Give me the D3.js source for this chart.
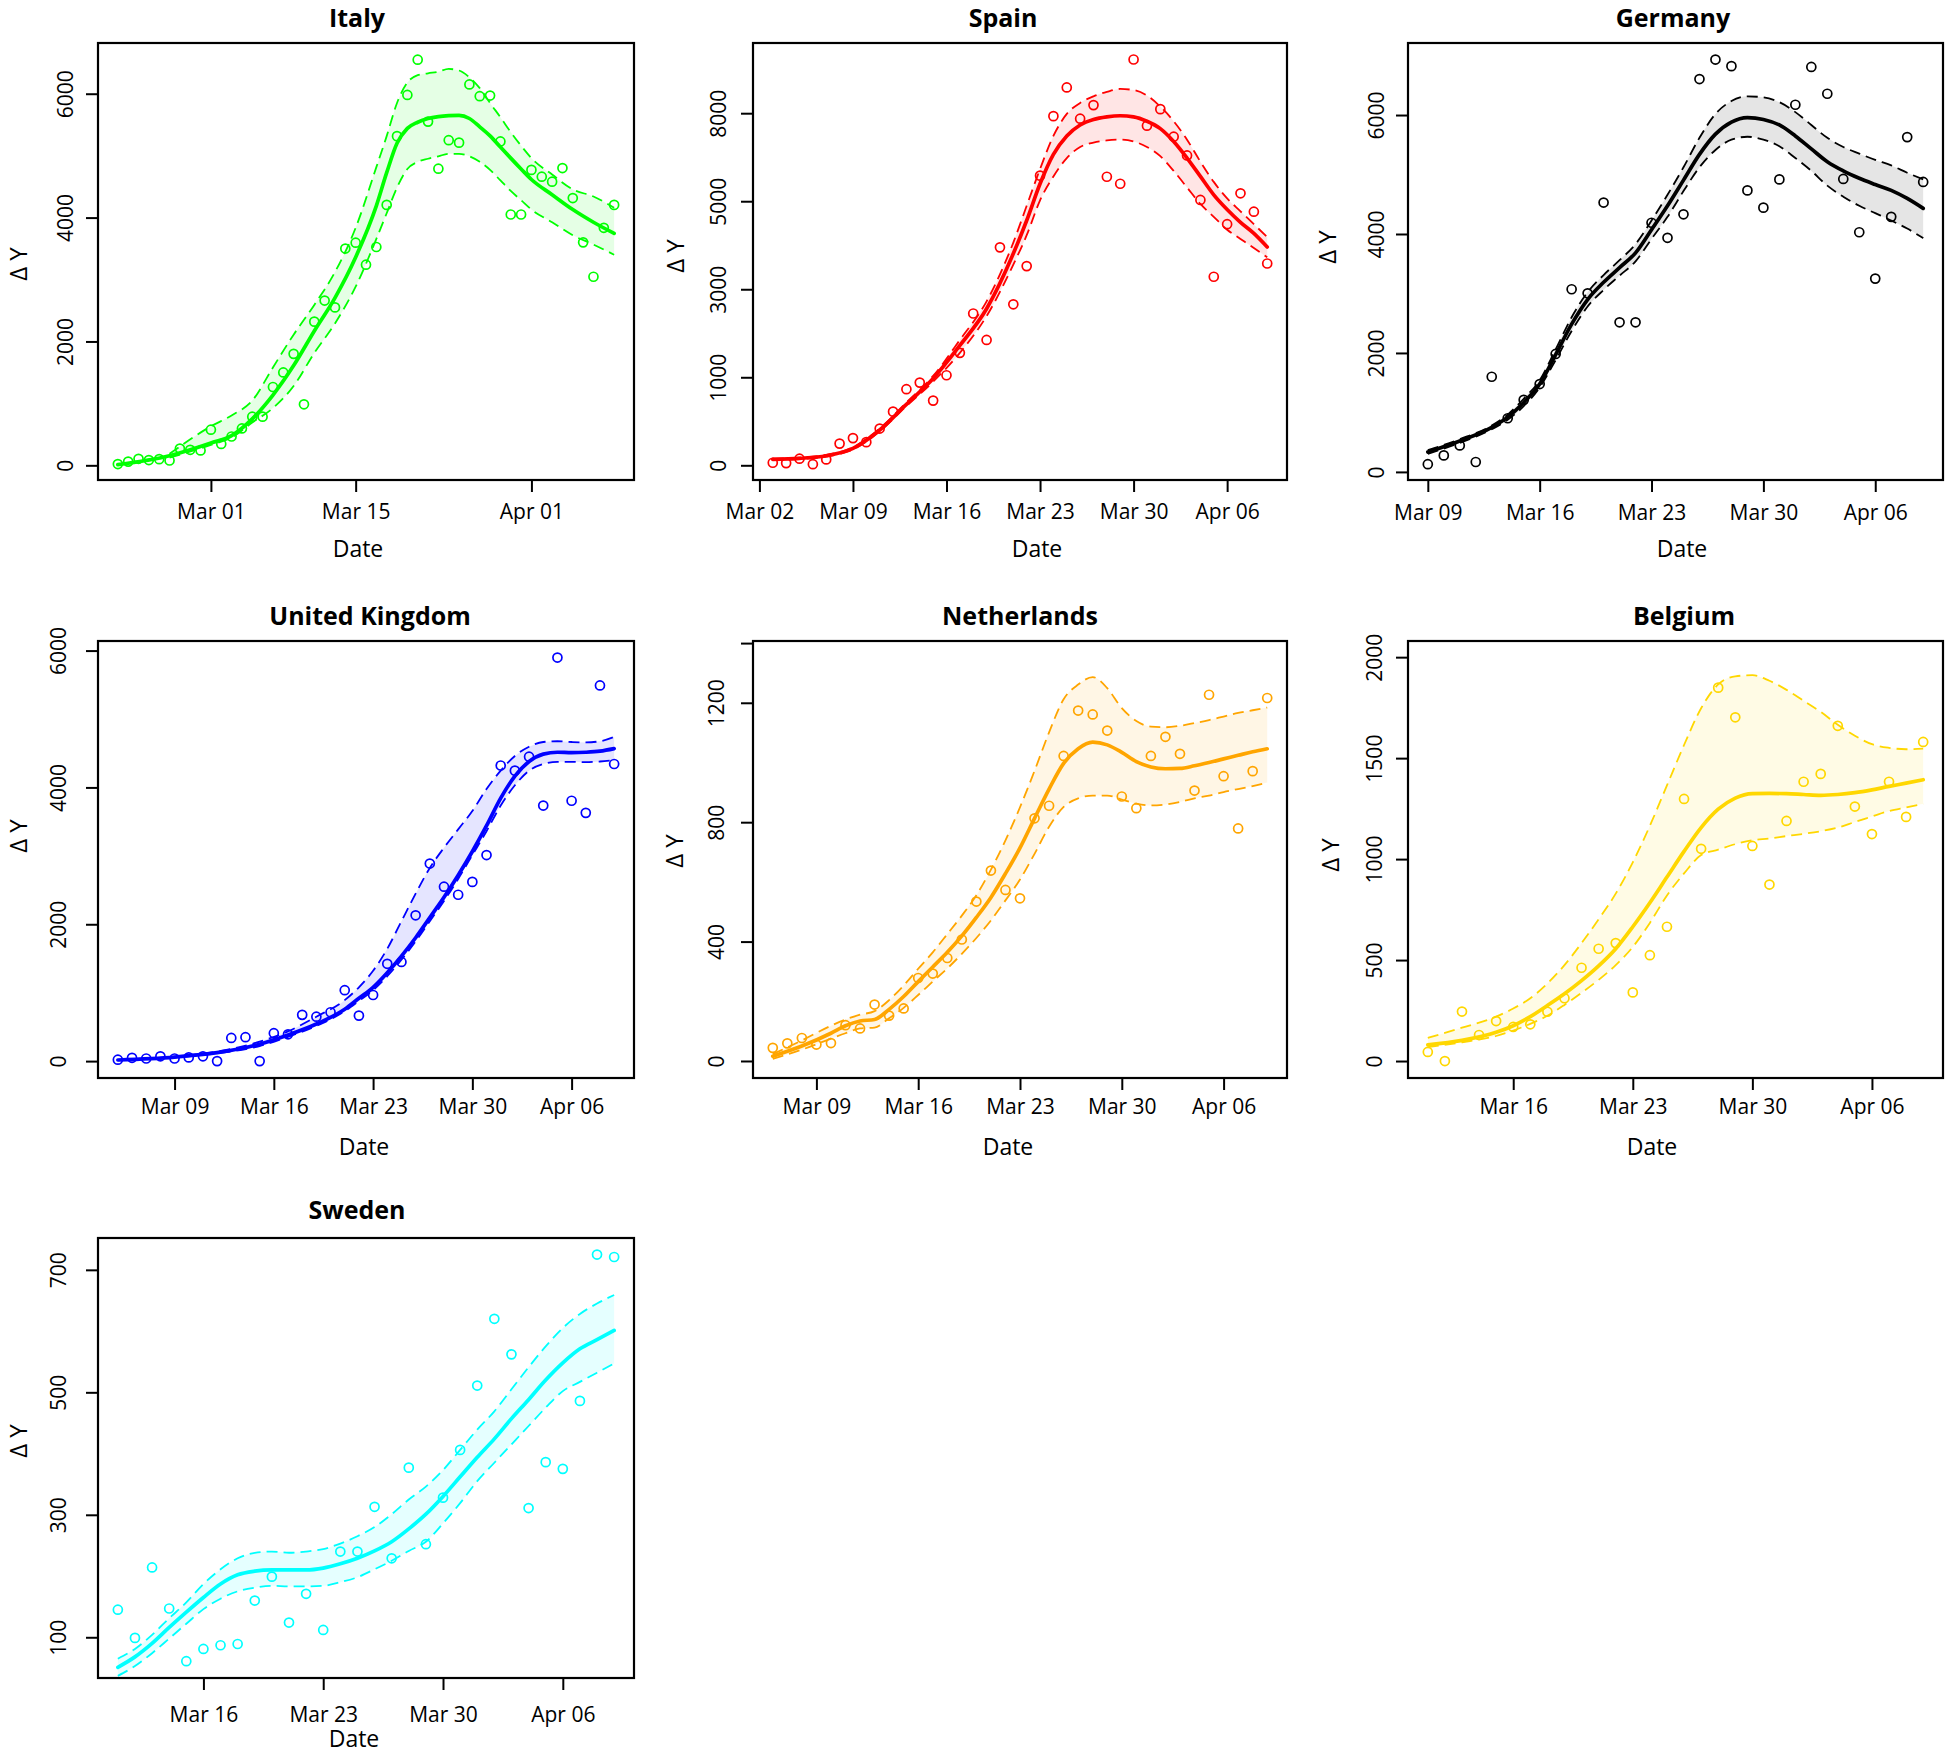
<!DOCTYPE html>
<html><head><meta charset="utf-8">
<script src="https://cdn.jsdelivr.net/npm/d3@7"></script>
<style>body{margin:0;background:#fff} svg{display:block}</style>
</head><body>
<svg id="chart" width="1946" height="1755"></svg>
<script>
// ---------------- DATA ----------------
// Italy
const italyStart = "2020-02-21";
const italyNew = [20,60,105,85,100,78,270,250,240,575,345,465,595,785,785,1265,1500,1800,985,2320,2660,2550,3500,3595,3240,3525,4205,5315,5980,6550,5550,4790,5250,5210,6150,5960,5970,5230,4050,4050,4770,4660,4580,4800,4315,3600,3045,3835,4205];
const italyKnots = [0,5,9,11,13,15,17,19,21,23,25,26,27,28,29,30,31,32,33,34,35,36,37,38,39,40,42,44,46,48];
const italyFit = [10,155,360,480,750,1135,1610,2170,2705,3360,4190,4725,5200,5440,5540,5600,5630,5645,5650,5600,5465,5320,5140,4960,4785,4615,4370,4130,3925,3745];
const italyHi = [null,185,630,805,1045,1580,2110,2590,3120,3835,4815,5315,5850,6180,6300,6330,6355,6400,6375,6265,6090,5850,5620,5380,5160,4960,4695,4455,4340,4160];
const italyLo = [null,125,330,450,690,925,1280,1815,2290,2885,3655,4070,4485,4785,4900,4950,4990,5030,5030,4990,4900,4770,4600,4430,4280,4130,3925,3715,3565,3400];
const italyYTicks = [0,2000,4000,6000];
const italyYLabels = ["0","2000","4000","6000"];
const italyXTicks = ["2020-03-01","2020-03-15","2020-04-01"];
const italyXLabels = ["Mar 01","Mar 15","Apr 01"];

// Spain
const spainStart = "2020-03-03";
const spainNew = [58,50,150,25,134,493,618,526,835,1219,1729,1879,1470,2046,2555,3449,2848,4952,3658,4526,6581,7933,8585,7875,8184,6556,6397,9220,7716,8092,7466,7040,6029,4284,5478,6180,5762,4585];
const spainKnots = [0,2,4,6,8,10,12,14,16,18,19,20,21,22,23,24,25,26,27,28,29,30,31,32,33,34,35,36,37];
const spainFit = [134,159,217,384,802,1386,1971,2722,3557,4810,5562,6397,7065,7483,7733,7858,7917,7942,7917,7817,7650,7357,6981,6564,6146,5812,5520,5269,4960];
const spainHi = [150,176,236,409,835,1428,2030,2848,3725,5061,5896,6731,7483,7984,8234,8384,8485,8551,8526,8401,8151,7817,7399,6898,6439,6063,5771,5478,5186];
const spainLo = [118,142,198,359,770,1345,1900,2555,3390,4560,5228,6021,6564,6981,7232,7332,7382,7399,7357,7232,7023,6689,6313,5938,5645,5353,5144,4935,4727];
const spainYTicks = [0,2000,4000,6000,8000];
const spainYLabels = ["0","1000","3000","5000","8000"];
const spainXTicks = ["2020-03-02","2020-03-09","2020-03-16","2020-03-23","2020-03-30","2020-04-06"];
const spainXLabels = ["Mar 02","Mar 09","Mar 16","Mar 23","Mar 30","Apr 06"];

// Germany
const germanyStart = "2020-03-09";
const germanyNew = [130,278,445,167,1600,902,1211,1477,1983,3071,3003,4529,2515,2515,4189,3936,4331,6605,6933,6822,4733,4443,4918,6173,6809,6358,4925,4029,3250,4288,5629,4875];
const germanyKnots = [0,2,4,5,6,7,8,9,10,11,12,13,14,15,16,17,18,19,20,21,22,23,24,25,26,27,28,29,30,31];
const germanyFit = [334,519,748,921,1168,1477,1971,2484,2898,3188,3435,3683,4072,4474,4906,5339,5679,5882,5957,5926,5833,5648,5431,5215,5061,4937,4832,4733,4597,4430];
const germanyHi = [365,550,779,964,1230,1540,2060,2600,3020,3310,3560,3830,4226,4659,5122,5617,6018,6235,6315,6297,6216,6049,5833,5617,5462,5351,5246,5153,5030,4918];
const germanyLo = [303,488,717,877,1106,1420,1880,2370,2780,3060,3300,3540,3917,4288,4721,5122,5413,5586,5635,5586,5475,5277,5061,4813,4628,4474,4350,4226,4091,3930];
const germanyYTicks = [0,2000,4000,6000];
const germanyYLabels = ["0","2000","4000","6000"];
const germanyXTicks = ["2020-03-09","2020-03-16","2020-03-23","2020-03-30","2020-04-06"];
const germanyXLabels = ["Mar 09","Mar 16","Mar 23","Mar 30","Apr 06"];

// United Kingdom
const ukStart = "2020-03-05";
const ukNew = [21,48,38,70,38,54,70,0,338,349,0,408,392,676,649,714,1036,665,966,1422,1449,2131,2887,2549,2431,2619,3011,4320,4245,4449,3735,5898,3805,3628,5490,4342];
const ukKnots = [0,4,7,10,12,14,16,17,18,19,20,21,22,23,24,25,26,27,28,29,30,31,32,33,34,35];
const ukFit = [16,59,123,247,381,542,757,918,1079,1293,1535,1803,2098,2394,2716,3064,3440,3843,4165,4379,4487,4514,4508,4514,4530,4567];
const ukHi = [16,65,140,284,435,649,891,1079,1320,1642,2045,2447,2823,3118,3387,3655,3977,4245,4460,4594,4664,4675,4664,4658,4675,4739];
const ukLo = [11,55,113,220,354,515,730,880,1036,1240,1481,1750,2045,2340,2662,3011,3360,3735,4031,4245,4342,4374,4374,4369,4379,4396];
const ukYTicks = [0,2000,4000,6000];
const ukYLabels = ["0","2000","4000","6000"];
const ukXTicks = ["2020-03-09","2020-03-16","2020-03-23","2020-03-30","2020-04-06"];
const ukXLabels = ["Mar 09","Mar 16","Mar 23","Mar 30","Apr 06"];

// Netherlands
const nlStart = "2020-03-06";
const nlNew = [44,59,77,55,60,120,109,189,152,176,278,293,345,407,534,638,573,545,813,855,1022,1174,1161,1107,886,847,1022,1086,1029,906,1227,954,779,971,1216];
const nlKnots = [0,2,4,5,6,7,8,9,10,11,12,13,14,15,16,17,18,19,20,21,22,23,24,25,26,27,28,29,30,31,32,33,34];
const nlFit = [16,50,93,118,134,139,173,216,266,315,364,419,481,548,628,714,813,911,997,1046,1068,1059,1034,1003,985,979,980,989,1000,1012,1024,1036,1046];
const nlHi = [23,69,118,139,155,167,204,253,309,364,425,487,555,641,739,850,972,1101,1212,1261,1286,1249,1182,1139,1120,1118,1123,1132,1142,1154,1166,1175,1184];
const nlLo = [7,38,75,93,109,112,143,178,221,266,310,359,412,471,538,608,694,785,851,880,889,889,876,862,856,859,868,880,889,901,911,921,933];
const nlYTicks = [0,400,800,1200,1400];
const nlYLabels = ["0","400","800","1200",""];
const nlXTicks = ["2020-03-09","2020-03-16","2020-03-23","2020-03-30","2020-04-06"];
const nlXLabels = ["Mar 09","Mar 16","Mar 23","Mar 30","Apr 06"];

// Belgium
const beStart = "2020-03-11";
const beNew = [45,0,245,129,198,169,182,244,311,462,556,584,340,524,665,1298,1051,1849,1702,1065,874,1189,1383,1422,1660,1260,1124,1383,1209,1580];
const beKnots = [0,2,4,5,6,7,8,9,10,11,12,13,14,15,16,17,18,19,20,21,22,23,24,25,26,27,28,29];
const beFit = [80,102,142,175,220,275,333,398,471,556,665,784,911,1038,1156,1247,1302,1324,1325,1324,1320,1316,1320,1329,1343,1360,1376,1393];
const beHi = [115,165,220,260,311,384,475,584,702,829,984,1165,1365,1565,1747,1865,1905,1911,1883,1838,1784,1729,1665,1611,1569,1551,1544,1547];
const beLo = [69,93,124,151,184,224,278,338,402,475,565,684,820,929,1020,1047,1074,1093,1102,1114,1125,1138,1156,1184,1211,1238,1256,1274];
const beYTicks = [0,500,1000,1500,2000];
const beYLabels = ["0","500","1000","1500","2000"];
const beXTicks = ["2020-03-16","2020-03-23","2020-03-30","2020-04-06"];
const beXLabels = ["Mar 16","Mar 23","Mar 30","Apr 06"];

// Sweden
const seStart = "2020-03-11";
const seNew = [145,99,214,147,61,81,87,89,160,199,124,171,112,240,240,313,229,377,252,328,406,511,620,562,311,386,375,486,725,721];
const seKnots = [0,1,2,3,4,5,6,7,8,9,10,11,12,13,14,15,16,17,18,19,20,21,22,23,24,25,26,27,28,29];
const seFit = [51,68,90,116,141,165,187,202,208,210,210,210,213,220,229,241,256,277,301,330,362,394,424,457,488,520,548,571,586,601];
const seHi = [65,81,104,131,157,187,211,229,238,240,238,240,244,253,265,280,301,325,346,373,406,439,469,505,541,575,605,628,645,659];
const seLo = [37,53,74,98,122,146,163,175,181,184,183,183,184,190,198,211,225,241,256,286,319,355,385,415,445,475,502,517,532,547];
const seYTicks = [100,300,500,700];
const seYLabels = ["100","300","500","700"];
const seXTicks = ["2020-03-16","2020-03-23","2020-03-30","2020-04-06"];
const seXLabels = ["Mar 16","Mar 23","Mar 30","Apr 06"];

// ---------------- LAYOUT ----------------
const panels = [
  {title:"Italy", start:italyStart, obs:italyNew, knots:italyKnots, fit:italyFit, hi:italyHi, lo:italyLo,
   yTicks:italyYTicks, yLabels:italyYLabels, xTicks:italyXTicks, xLabels:italyXLabels, color:"#00FF00",
   box:{L:98,R:634,T:43,B:480}, yDomain:[-237,6819], titleX:357, titleY:27, yLabOff:-33, dyX:-80, dyY:264, xLabOff:31, dateX:358, dateOff:69},
  {title:"Spain", start:spainStart, obs:spainNew, knots:spainKnots, fit:spainFit, hi:spainHi, lo:spainLo,
   yTicks:spainYTicks, yLabels:spainYLabels, xTicks:spainXTicks, xLabels:spainXLabels, color:"#FF0000",
   box:{L:753,R:1287,T:43,B:480}, yDomain:[-334,9595], titleX:1003, titleY:27, yLabOff:-35, dyX:-78, dyY:256, xLabOff:31, dateX:1037, dateOff:69},
  {title:"Germany", start:germanyStart, obs:germanyNew, knots:germanyKnots, fit:germanyFit, hi:germanyHi, lo:germanyLo,
   yTicks:germanyYTicks, yLabels:germanyYLabels, xTicks:germanyXTicks, xLabels:germanyXLabels, color:"#000000",
   box:{L:1408,R:1943,T:43,B:480}, yDomain:[-136,7211], titleX:1673, titleY:27, yLabOff:-32, dyX:-81, dyY:247, xLabOff:32, dateX:1682, dateOff:69},
  {title:"United Kingdom", start:ukStart, obs:ukNew, knots:ukKnots, fit:ukFit, hi:ukHi, lo:ukLo,
   yTicks:ukYTicks, yLabels:ukYLabels, xTicks:ukXTicks, xLabels:ukXLabels, color:"#0000FF",
   box:{L:98,R:634,T:641,B:1078}, yDomain:[-247,6140], titleX:370, titleY:625, yLabOff:-40, dyX:-80, dyY:836, xLabOff:28.7, dateX:364, dateOff:69},
  {title:"Netherlands", start:nlStart, obs:nlNew, knots:nlKnots, fit:nlFit, hi:nlHi, lo:nlLo,
   yTicks:nlYTicks, yLabels:nlYLabels, xTicks:nlXTicks, xLabels:nlXLabels, color:"#FFA500",
   box:{L:753,R:1287,T:641,B:1078}, yDomain:[-57,1407], titleX:1020, titleY:625, yLabOff:-37, dyX:-79, dyY:851, xLabOff:28.7, dateX:1008, dateOff:69},
  {title:"Belgium", start:beStart, obs:beNew, knots:beKnots, fit:beFit, hi:beHi, lo:beLo,
   yTicks:beYTicks, yLabels:beYLabels, xTicks:beXTicks, xLabels:beXLabels, color:"#FFD700",
   box:{L:1408,R:1943,T:641,B:1078}, yDomain:[-84,2080], titleX:1684, titleY:625, yLabOff:-34, dyX:-78, dyY:855, xLabOff:28.7, dateX:1652, dateOff:69},
  {title:"Sweden", start:seStart, obs:seNew, knots:seKnots, fit:seFit, hi:seHi, lo:seLo,
   yTicks:seYTicks, yLabels:seYLabels, xTicks:seXTicks, xLabels:seXLabels, color:"#00FFFF",
   box:{L:98,R:634,T:1238,B:1678}, yDomain:[33.5,752], titleX:357, titleY:1219, yLabOff:-40, dyX:-80, dyY:1441, xLabOff:36, dateX:354, dateOff:61}
];

const FONT = "'Open Sans', 'Noto Sans', sans-serif";
const parse = d3.utcParse("%Y-%m-%d");
const DAY = 864e5;
const svg = d3.select("#chart");

panels.forEach((p, pi) => {
  const {L,R,T,B} = p.box;
  const n = p.obs.length;
  const start = parse(p.start);
  const x = d3.scaleLinear().domain([-0.04*(n-1), 1.04*(n-1)]).range([L, R]);
  const y = d3.scaleLinear().domain(p.yDomain).range([B, T]);
  const g = svg.append("g");

  const clipId = "clip" + pi;
  g.append("clipPath").attr("id", clipId).append("rect")
    .attr("x", L).attr("y", T).attr("width", R-L).attr("height", B-T);
  const plot = g.append("g").attr("clip-path", `url(#${clipId})`);

  const knotData = p.knots.map((k,i) => ({k, fit:p.fit[i], hi:p.hi[i], lo:p.lo[i]}));

  // band
  const area = d3.area()
    .defined(d => d.hi != null && d.lo != null)
    .x(d => x(d.k)).y0(d => y(d.lo)).y1(d => y(d.hi))
    .curve(d3.curveMonotoneX);
  plot.append("path").datum(knotData).attr("d", area)
    .attr("fill", p.color).attr("fill-opacity", 0.1).attr("stroke", "none");

  // dashed bounds
  ["hi","lo"].forEach(key => {
    const line = d3.line().defined(d => d[key] != null)
      .x(d => x(d.k)).y(d => y(d[key])).curve(d3.curveMonotoneX);
    plot.append("path").datum(knotData).attr("d", line)
      .attr("fill","none").attr("stroke", p.color).attr("stroke-width", 1.8)
      .attr("stroke-dasharray","11,6");
  });

  // fitted line
  const fitLine = d3.line().x(d => x(d.k)).y(d => y(d.fit)).curve(d3.curveMonotoneX);
  plot.append("path").datum(knotData).attr("d", fitLine)
    .attr("fill","none").attr("stroke", p.color).attr("stroke-width", 3.7)
    .attr("stroke-linejoin","round").attr("stroke-linecap","round");

  // observations
  plot.selectAll("circle.obs").data(p.obs).join("circle").attr("class","obs")
    .attr("cx", (d,i) => x(i)).attr("cy", d => y(d)).attr("r", 4.5)
    .attr("fill","none").attr("stroke", p.color).attr("stroke-width", 1.7);

  // box
  g.append("rect").attr("x", L).attr("y", T).attr("width", R-L).attr("height", B-T)
    .attr("fill","none").attr("stroke","#000").attr("stroke-width", 2.2);

  // x axis
  const xTickIdx = p.xTicks.map(s => (parse(s) - start) / DAY);
  const gx = g.append("g").attr("transform", `translate(0,${B})`)
    .call(d3.axisBottom(x).tickValues(xTickIdx).tickFormat((d,i) => p.xLabels[i]).tickSize(12));
  gx.select(".domain").remove();
  gx.attr("font-family", FONT).attr("font-size", 21);
  gx.selectAll("line").attr("stroke","#000").attr("stroke-width", 2);
  gx.selectAll("text").attr("y", p.xLabOff).attr("dy","0.36em").attr("fill","#000");

  // y axis
  const gy = g.append("g").attr("transform", `translate(${L},0)`)
    .call(d3.axisLeft(y).tickValues(p.yTicks).tickFormat((d,i) => p.yLabels[i]).tickSize(12));
  gy.select(".domain").remove();
  gy.attr("font-family", FONT).attr("font-size", 21);
  gy.selectAll("line").attr("stroke","#000").attr("stroke-width", 2);
  gy.selectAll("text").attr("x", 0).attr("dy","0.36em").attr("text-anchor","middle")
    .attr("transform", `translate(${p.yLabOff},0) rotate(-90)`).attr("fill","#000");

  // titles
  g.append("text").attr("x", p.titleX).attr("y", p.titleY).attr("text-anchor","middle")
    .attr("font-family", FONT).attr("font-weight","bold").attr("font-size", 25).text(p.title);
  g.append("text").attr("x", p.dateX).attr("y", B + p.dateOff).attr("dy","0.36em").attr("text-anchor","middle")
    .attr("font-family", FONT).attr("font-size", 23).text("Date");
  g.append("text").attr("transform", `translate(${L + p.dyX},${p.dyY}) rotate(-90)`)
    .attr("dy","0.36em").attr("text-anchor","middle")
    .attr("font-family", FONT).attr("font-size", 24).text("Δ Y");
});
</script>
</body></html>
